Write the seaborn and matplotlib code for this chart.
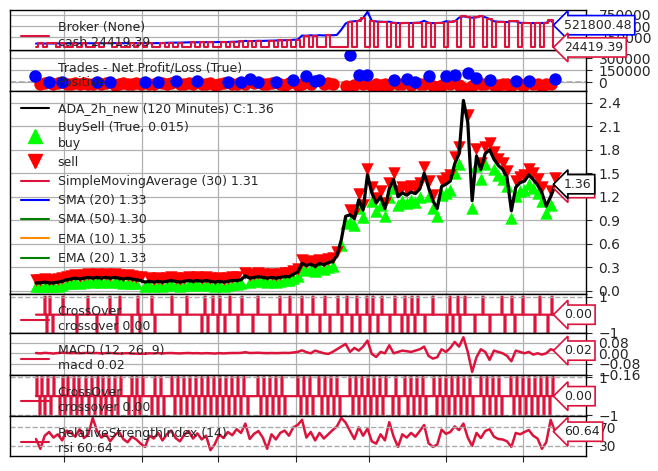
import numpy as np
import pandas as pd
import matplotlib
matplotlib.use("Agg")
import matplotlib.pyplot as plt
import seaborn as sns
from matplotlib.lines import Line2D

# ------------------------------------------------------------
# Data
# ------------------------------------------------------------

# close price, one value per plotted bar
close = [
    0.10, 0.10, 0.11, 0.10, 0.10, 0.11, 0.12, 0.14, 0.15, 0.16,
    0.15, 0.16, 0.17, 0.16, 0.17, 0.16, 0.17, 0.16, 0.17, 0.16,
    0.15, 0.16, 0.15, 0.14, 0.13, 0.11, 0.12, 0.11, 0.12, 0.11,
    0.12, 0.13, 0.12, 0.11, 0.12, 0.13, 0.12, 0.13, 0.12, 0.13,
    0.12, 0.11, 0.12, 0.11, 0.12, 0.13, 0.13, 0.14, 0.19, 0.16,
    0.17, 0.18, 0.17, 0.16, 0.17, 0.16, 0.17, 0.18, 0.18, 0.21,
    0.24, 0.35, 0.32, 0.34, 0.31, 0.35, 0.33, 0.36, 0.37, 0.45,
    0.65, 0.95, 0.97, 0.92, 1.16, 1.03, 1.48, 1.25, 1.12, 1.20,
    1.05, 1.30, 1.42, 1.20, 1.25, 1.22, 1.26, 1.24, 1.30, 1.50,
    1.32, 1.15, 1.05, 1.33, 1.36, 1.40, 1.62, 1.75, 2.43, 2.15,
    1.15, 1.72, 1.55, 1.75, 1.80, 1.68, 1.60, 1.55, 1.45, 1.02,
    1.32, 1.38, 1.40, 1.48, 1.42, 1.35, 1.25, 1.08, 1.20, 1.36,
]

buy_idx = [0, 1, 2, 3, 4, 5, 6, 7, 8, 9, 10, 11, 12, 13, 14, 15, 16, 17, 18,
           19, 20, 21, 22, 23, 25, 26, 27, 28, 29, 30, 31, 32, 33, 34, 35, 36,
           37, 38, 39, 40, 41, 42, 43, 44, 45, 46, 47, 49, 50, 51, 52, 53, 54,
           55, 56, 57, 58, 59, 60, 61, 62, 63, 64, 65, 66, 67, 68, 70, 71, 72,
           73, 74, 75, 77, 78, 79, 80, 81, 82, 83, 84, 85, 86, 87, 88, 90, 91,
           92, 93, 94, 95, 96, 97, 100, 101, 102, 103, 105, 106, 107, 108, 109,
           110, 111, 112, 113, 114, 115, 116, 117, 118]
sell_idx = [0, 1, 2, 3, 4, 5, 6, 7, 8, 9, 10, 11, 12, 13, 14, 15, 16, 17, 18,
            19, 20, 21, 22, 23, 24, 26, 27, 28, 29, 30, 31, 32, 33, 34, 35, 36,
            37, 38, 39, 40, 41, 42, 43, 44, 45, 46, 48, 49, 50, 51, 52, 53, 54,
            55, 56, 57, 58, 59, 60, 61, 62, 63, 64, 65, 66, 67, 68, 69, 72, 73,
            74, 75, 76, 77, 78, 79, 80, 81, 82, 83, 84, 85, 86, 87, 88, 89, 90,
            91, 93, 94, 95, 96, 97, 99, 101, 102, 103, 104, 105, 106, 107, 108,
            110, 111, 112, 113, 114, 115, 116, 118, 119]

# last values of the moving averages (legend / tags)
ma_names = ["SimpleMovingAverage (30)", "SMA (20)", "SMA (50)", "EMA (10)", "EMA (20)"]
ma_last = [1.31, 1.33, 1.30, 1.35, 1.33]
ma_colors = ["crimson", "blue", "green", "darkorange", "green"]

# broker value
value = [
    110000, 112000, 111000, 113000, 112000, 114000, 113000, 115000, 116000, 115000,
    117000, 116000, 118000, 117000, 119000, 118000, 120000, 119000, 121000, 120000,
    119000, 121000, 120000, 122000, 121000, 118000, 120000, 119000, 121000, 122000,
    128000, 130000, 132000, 131000, 135000, 138000, 140000, 139000, 142000, 141000,
    143000, 142000, 145000, 144000, 146000, 150000, 152000, 158000, 170000, 165000,
    168000, 172000, 170000, 174000, 176000, 178000, 182000, 185000, 188000, 195000,
    200000, 290000, 285000, 295000, 288000, 298000, 292000, 300000, 296000, 305000,
    420000, 560000, 600000, 610000, 620000, 680000, 820000, 620000, 605000, 600000,
    595000, 600000, 575000, 570000, 568000, 572000, 570000, 575000, 580000, 620000,
    575000, 568000, 570000, 575000, 610000, 600000, 605000, 690000, 720000, 700000,
    690000, 695000, 725000, 700000, 660000, 610000, 600000, 598000, 590000, 612000,
    608000, 575000, 572000, 570000, 568000, 572000, 570000, 575000, 640000, 521800.48,
]
# 1 = flat (cash equals value), 0 = in the market
cash_flat = [
    0, 1, 0, 1, 1, 0, 1, 0, 0, 1,
    0, 1, 0, 0, 1, 0, 1, 1, 0, 1,
    0, 0, 1, 0, 1, 0, 1, 0, 0, 1,
    0, 1, 0, 1, 0, 0, 1, 0, 1, 0,
    1, 0, 0, 1, 0, 1, 0, 1, 0, 1,
    0, 1, 0, 0, 1, 0, 1, 0, 1, 0,
    1, 0, 1, 0, 1, 0, 0, 1, 0, 0,
    0, 0, 1, 0, 1, 1, 0, 1, 0, 1,
    1, 0, 1, 0, 1, 1, 0, 1, 1, 0,
    1, 0, 1, 1, 0, 1, 1, 0, 1, 1,
    0, 1, 1, 0, 1, 0, 1, 1, 0, 1,
    1, 0, 1, 1, 0, 1, 0, 1, 1, 0,
]
cash_invested = 24419.39

# trades net profit / loss
win_idx = [3, 6, 14, 17, 25, 28, 32, 37, 44, 47, 49, 51, 55, 59, 62, 64, 65,
           72, 74, 76, 82, 85, 87, 90, 94, 96, 99, 101, 104, 110, 113, 119]
win_pnl = [5000, 5000, 5000, 5000, 5000, 5000, 10000, 12000, 5000, 5000,
           40000, 5000, 5000, 20000, 70000, 15000, 30000, 340000, 90000, 92000,
           20000, 40000, 3000, 71000, 75000, 90000, 112000, 50000, 30000, 15000,
           15000, 41000]
loss_idx = [1, 2, 4, 5, 7, 8, 9, 10, 11, 12, 13, 15, 16, 18, 19, 20, 21, 22, 23,
            24, 26, 27, 29, 30, 31, 33, 34, 35, 36, 38, 39, 40, 41, 42, 43, 45,
            46, 48, 50, 52, 53, 54, 56, 57, 58, 60, 61, 63, 66, 67, 68, 71, 73,
            75, 77, 78, 79, 80, 81, 83, 84, 86, 88, 89, 91, 92, 93, 95, 97, 98,
            100, 102, 103, 105, 106, 107, 108, 109, 111, 112, 114, 115, 116, 117, 118]
loss_pnl = [
    -20000, -15000, -25000, -18000, -30000, -22000, -12000, -28000, -16000, -24000,
    -19000, -26000, -14000, -32000, -21000, -17000, -27000, -23000, -15000, -29000,
    -20000, -25000, -13000, -31000, -18000, -22000, -26000, -16000, -24000, -19000,
    -28000, -14000, -33000, -21000, -17000, -25000, -20000, -30000, -15000, -23000,
    -27000, -18000, -22000, -35000, -16000, -40000, -25000, -20000, -28000, -18000,
    -30000, -45000, -35000, -25000, -50000, -30000, -40000, -22000, -35000, -28000,
    -20000, -38000, -25000, -30000, -45000, -60000, -35000, -28000, -40000, -70000,
    -55000, -30000, -25000, -40000, -35000, -20000, -30000, -50000, -25000, -35000,
    -30000, -20000, -45000, -25000, -30000,
]

# crossover events on the fine (raw bar) scale, signs alternate
co1_bars = [9, 11, 14, 17, 27, 41, 52, 61, 74, 81, 84, 96, 102, 104, 116, 119,
            136, 144, 151, 166, 169, 172, 177, 182, 184, 189, 194, 202, 206, 217,
            222, 234, 244, 249, 254, 261, 266, 271, 277, 284, 289, 294, 302, 306,
            311, 316, 321, 324, 331, 334, 337, 342, 346, 354, 359, 366, 369, 372,
            376, 379, 382, 389, 397, 411, 414, 417, 422, 424, 429, 439, 447, 454,
            466, 469, 476, 479, 487, 499, 504, 512, 516]
co2_bars = [1, 4, 6, 9, 12, 15, 18, 24, 27, 29, 32, 35, 38, 41, 43, 46, 50, 53,
            56, 59, 62, 65, 67, 70, 73, 76, 79, 82, 85, 93, 96, 99, 101, 104, 107,
            116, 119, 122, 125, 128, 136, 139, 142, 145, 148, 151, 154, 157, 160,
            163, 166, 169, 172, 175, 178, 181, 184, 187, 190, 193, 196, 199, 202,
            205, 208, 212, 222, 225, 228, 231, 234, 237, 240, 243, 246, 249, 262,
            265, 268, 271, 274, 277, 283, 286, 289, 292, 295, 298, 301, 304, 314,
            317, 320, 323, 326, 329, 332, 335, 338, 341, 344, 347, 350, 357, 360,
            363, 369, 372, 375, 378, 381, 384, 387, 390, 398, 401, 404, 407, 410,
            413, 416, 419, 422, 425, 428, 431, 434, 437, 445, 448, 451, 454, 457,
            460, 463, 466, 475, 478, 481, 484, 487, 490, 493, 496, 499, 502, 505,
            508, 511, 514, 517]

macd = [
    0.002, -0.001, 0.003, 0.001, -0.002, 0.002, 0.004, 0.003, 0.001, 0.002,
    0.000, 0.002, 0.003, 0.001, 0.002, -0.001, 0.001, 0.002, 0.000, -0.002,
    -0.001, 0.001, -0.002, -0.003, -0.004, -0.003, 0.000, -0.001, 0.001, -0.001,
    0.001, 0.002, 0.000, -0.001, 0.001, 0.002, 0.000, 0.001, -0.001, 0.001,
    0.000, -0.002, 0.001, -0.001, 0.001, 0.002, 0.002, 0.003, 0.008, 0.002,
    0.003, 0.004, 0.002, 0.001, 0.002, 0.001, 0.002, 0.003, 0.002, 0.006,
    0.010, 0.022, 0.008, 0.000, 0.020, 0.010, 0.000, -0.005, 0.010, 0.030,
    0.050, 0.070, 0.010, 0.040, 0.020, 0.050, 0.095, -0.005, -0.028, 0.010,
    0.000, 0.060, 0.000, 0.010, 0.020, 0.015, 0.010, 0.020, 0.030, 0.050,
    -0.020, -0.040, -0.030, 0.030, 0.010, 0.040, 0.085, 0.050, 0.120, 0.010,
    -0.140, -0.030, 0.030, 0.010, -0.050, 0.020, 0.010, 0.000, -0.020, -0.060,
    0.020, 0.010, 0.000, 0.010, -0.010, 0.000, -0.010, 0.000, 0.030, 0.020,
]

rsi = [
    45, 24, 52, 60, 48, 55, 42, 63, 58, 50,
    66, 47, 55, 90, 62, 48, 56, 40, 52, 61,
    45, 38, 50, 44, 35, 28, 52, 46, 58, 42,
    55, 63, 47, 40, 54, 62, 46, 57, 44, 52,
    21, 34, 55, 47, 60, 53, 66, 58, 78, 45,
    56, 62, 48, 24, 55, 44, 58, 63, 52, 70,
    75, 86, 48, 60, 42, 58, 46, 55, 64, 72,
    90, 80, 62, 45, 70, 52, 67, 40, 35, 55,
    42, 81, 50, 28, 55, 48, 58, 50, 62, 75,
    36, 28, 33, 65, 56, 60, 72, 64, 78, 48,
    30, 58, 47, 62, 66, 50, 45, 44, 40, 28,
    58, 55, 60, 64, 52, 46, 24, 38, 86, 60.64,
]

# ------------------------------------------------------------
# Style
# ------------------------------------------------------------

sns.set_style("ticks")
plt.rcParams["font.family"] = ["DejaVu Sans"]
plt.rcParams["axes.edgecolor"] = "black"
plt.rcParams["axes.linewidth"] = 1.0

CRIMSON = "crimson"
n_fine = 520
bar_x = np.linspace(0, n_fine - 1, len(close))
fine_x = np.arange(n_fine)
x_last = fine_x[-1]
xgrid = [28, 106, 182, 260, 333, 410, 487]

fig = plt.figure(figsize=(6.58, 4.71), dpi=100)
gs = fig.add_gridspec(
    7, 1,
    height_ratios=[40, 41, 203, 39, 42, 41, 40],
    left=10 / 658, right=586 / 658,
    top=1 - 10 / 471, bottom=1 - 456 / 471,
    hspace=0,
)
axes = [fig.add_subplot(gs[k]) for k in range(7)]
ax_brk, ax_trd, ax_main, ax_co1, ax_macd, ax_co2, ax_rsi = axes

for ax in axes:
    ax.set_xlim(-26, 550)
    ax.set_xticks(xgrid)
    ax.tick_params(axis="x", labelbottom=False, length=0)
    ax.yaxis.tick_right()
    ax.tick_params(axis="y", labelsize=10, length=4, pad=5)
    ax.grid(True, color="#b0b0b0", lw=0.9)
    ax.set_axisbelow(True)
ax_rsi.tick_params(axis="x", length=4)
ax_brk.set_zorder(2)


def tag(ax, y, txt, ec):
    ax.text(x_last + 9, y, txt, va="center", ha="left", fontsize=9,
            bbox=dict(boxstyle="larrow,pad=0.25", fc="white", ec=ec, lw=1.2),
            zorder=10)


def legend(ax, handles, labels):
    ax.legend(handles, labels, loc="upper left", frameon=False, fontsize=9,
              handlelength=2.2, handletextpad=0.7)


# ------------------------------------------------------------
# Broker
# ------------------------------------------------------------

cash = np.where(np.array(cash_flat) == 1, value, cash_invested)
sns.lineplot(x=bar_x, y=value, ax=ax_brk, color="blue", lw=1.5)
sns.lineplot(x=bar_x, y=cash, ax=ax_brk, color=CRIMSON, lw=1.5,
             drawstyle="steps-mid")
ax_brk.set_ylim(-33500, 861600)
ax_brk.set_yticks([250000, 500000, 750000])
ax_brk.ticklabel_format(axis="y", style="plain", useOffset=False)
legend(ax_brk, [Line2D([], [], color=CRIMSON, lw=1.5)],
       ["Broker (None)\ncash %.2f" % cash_invested])
tag(ax_brk, value[-1], "%.2f" % value[-1], "blue")
tag(ax_brk, cash[-1], "%.2f" % cash[-1], CRIMSON)

# ------------------------------------------------------------
# Trades
# ------------------------------------------------------------

ax_trd.axhline(0, color="#aaaaaa", ls="--", lw=1.2)
sns.scatterplot(x=bar_x[loss_idx], y=loss_pnl, ax=ax_trd, color="red",
                s=80, linewidth=0, zorder=3)
sns.scatterplot(x=bar_x[win_idx], y=win_pnl, ax=ax_trd, color="blue",
                s=80, linewidth=0, zorder=4)
ax_trd.set_ylim(-112500, 400000)
ax_trd.set_yticks([0, 150000, 300000])
ax_trd.ticklabel_format(axis="y", style="plain", useOffset=False)
legend(ax_trd,
       [Line2D([], [], color="blue", marker="o", ls="", ms=8),
        Line2D([], [], color="red", marker="o", ls="", ms=8)],
       ["Trades - Net Profit/Loss (True)\nPositive", "Negative"])

# ------------------------------------------------------------
# Price
# ------------------------------------------------------------

close_arr = np.array(close)
sns.scatterplot(x=bar_x[buy_idx], y=close_arr[buy_idx] * 0.95 - 0.04,
                ax=ax_main, color="#00ff00", marker="^", s=80, linewidth=0,
                zorder=3)
sns.scatterplot(x=bar_x[sell_idx], y=close_arr[sell_idx] * 1.03 + 0.035,
                ax=ax_main, color="#ff0000", marker="v", s=80, linewidth=0,
                zorder=3)
sns.lineplot(x=bar_x, y=close, ax=ax_main, color="black", lw=2.3, zorder=4)
ax_main.set_ylim(-0.042, 2.55)
ax_main.set_yticks(np.arange(0, 2.41, 0.3))

main_handles = [
    Line2D([], [], color="black", lw=1.5),
    Line2D([], [], color="#00ff00", marker="^", ls="", ms=10),
    Line2D([], [], color="#ff0000", marker="v", ls="", ms=10),
] + [Line2D([], [], color=c, lw=1.5) for c in ma_colors]
main_labels = [
    "ADA_2h_new (120 Minutes) C:%.2f" % close[-1],
    "BuySell (True, 0.015)\nbuy",
    "sell",
] + ["%s %.2f" % (n, v) for n, v in zip(ma_names, ma_last)]
legend(ax_main, main_handles, main_labels)
tag(ax_main, ma_last[0], "%.2f" % ma_last[0], ma_colors[0])
tag(ax_main, close[-1], "%.2f" % close[-1], "black")

# ------------------------------------------------------------
# CrossOver (SMA)
# ------------------------------------------------------------

co1 = np.zeros(n_fine)
co1[co1_bars] = np.where(np.arange(len(co1_bars)) % 2 == 0, 1, -1)
sns.lineplot(x=fine_x, y=co1, ax=ax_co1, color=CRIMSON, lw=1.6,
             drawstyle="steps-mid")
ax_co1.set_ylim(-1.02, 1.15)
ax_co1.set_yticks([-1, 1])
ax_co1.grid(False, axis="y")
for h in [-1, 1]:
    ax_co1.axhline(h, color="#aaaaaa", ls="--", lw=1.0)
legend(ax_co1, [Line2D([], [], color=CRIMSON, lw=1.5)],
       ["CrossOver\ncrossover %.2f" % co1[-1]])
tag(ax_co1, co1[-1], "%.2f" % co1[-1], CRIMSON)

# ------------------------------------------------------------
# MACD
# ------------------------------------------------------------

sns.lineplot(x=bar_x, y=macd, ax=ax_macd, color=CRIMSON, lw=1.8)
ax_macd.set_ylim(-0.163, 0.152)
ax_macd.set_yticks([-0.16, -0.08, 0.0, 0.08])
legend(ax_macd, [Line2D([], [], color=CRIMSON, lw=1.5)],
       ["MACD (12, 26, 9)\nmacd %.2f" % macd[-1]])
tag(ax_macd, macd[-1], "%.2f" % macd[-1], CRIMSON)

# ------------------------------------------------------------
# CrossOver (MACD)
# ------------------------------------------------------------

co2 = np.zeros(n_fine)
co2[co2_bars] = np.where(np.arange(len(co2_bars)) % 2 == 0, 1, -1)
sns.lineplot(x=fine_x, y=co2, ax=ax_co2, color=CRIMSON, lw=1.6,
             drawstyle="steps-mid")
ax_co2.set_ylim(-1.05, 1.12)
ax_co2.set_yticks([-1, 1])
ax_co2.grid(False, axis="y")
for h in [-1, 1]:
    ax_co2.axhline(h, color="#aaaaaa", ls="--", lw=1.0)
legend(ax_co2, [Line2D([], [], color=CRIMSON, lw=1.5)],
       ["CrossOver\ncrossover %.2f" % co2[-1]])
tag(ax_co2, co2[-1], "%.2f" % co2[-1], CRIMSON)

# ------------------------------------------------------------
# RSI
# ------------------------------------------------------------

sns.lineplot(x=bar_x, y=rsi, ax=ax_rsi, color=CRIMSON, lw=1.8)
ax_rsi.set_ylim(8.6, 94.2)
ax_rsi.set_yticks([30, 70])
ax_rsi.grid(False, axis="y")
for h in [30, 70]:
    ax_rsi.axhline(h, color="#aaaaaa", ls="--", lw=1.0)
legend(ax_rsi, [Line2D([], [], color=CRIMSON, lw=1.5)],
       ["RelativeStrengthIndex (14)\nrsi %.2f" % rsi[-1]])
tag(ax_rsi, rsi[-1], "%.2f" % rsi[-1], CRIMSON)

for ax in axes:
    ax.set_xlabel("")
    ax.set_ylabel("")

fig.savefig("out.png", dpi=100)
